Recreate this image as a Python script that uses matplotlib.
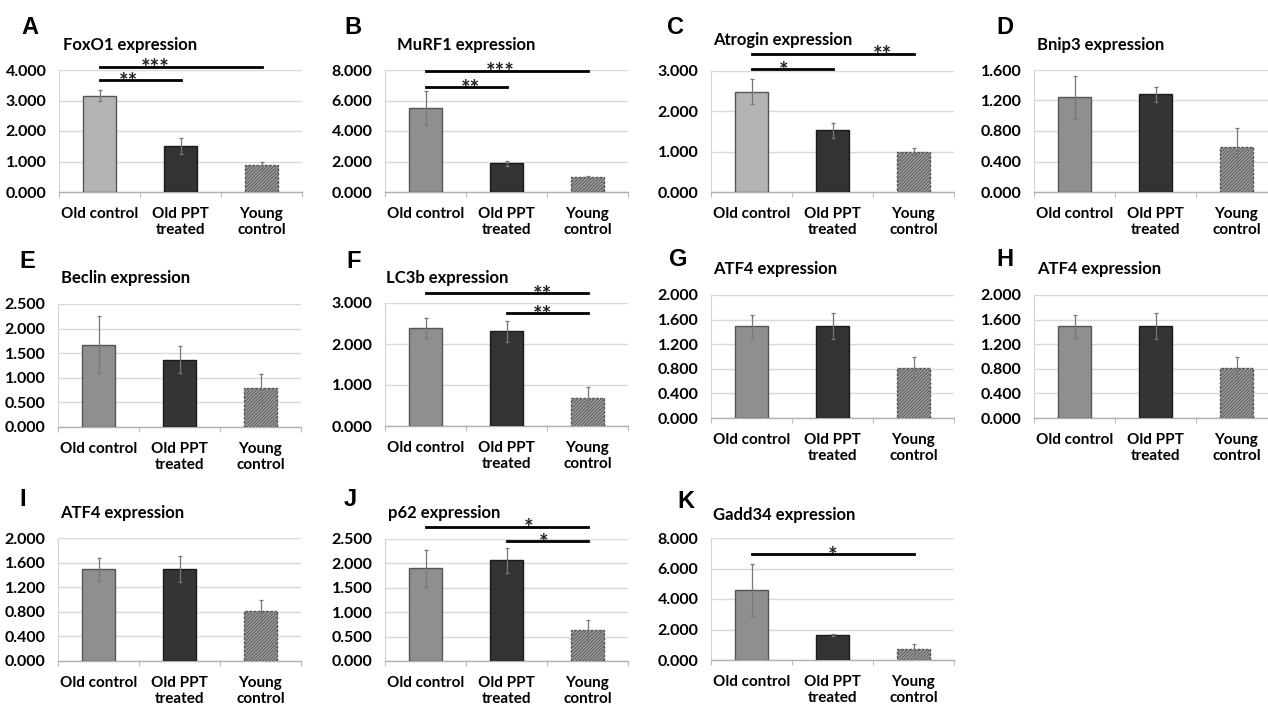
import numpy as np
import matplotlib
matplotlib.use("Agg")
import matplotlib.pyplot as plt
from matplotlib.ticker import FixedLocator

plt.rcParams['font.family'] = ['Lato', 'DejaVu Sans']
plt.rcParams['font.weight'] = 'bold'
plt.rcParams['hatch.linewidth'] = 0.6
plt.rcParams['hatch.color'] = '#5c5c5c'

#Groups
groups = ['Old control', 'Old PPT\ntreated', 'Young\ncontrol']

#Values (mean, error)
foxo1 = [3.15, 1.52, 0.88]
foxo1_err = [0.18, 0.26, 0.12]
murf1 = [5.50, 1.88, 1.00]
murf1_err = [1.10, 0.15, 0.05]
atrogin = [2.49, 1.53, 1.00]
atrogin_err = [0.30, 0.19, 0.08]
bnip3 = [1.24, 1.28, 0.59]
bnip3_err = [0.28, 0.10, 0.25]
beclin = [1.67, 1.37, 0.79]
beclin_err = [0.58, 0.27, 0.28]
lc3b = [2.39, 2.31, 0.68]
lc3b_err = [0.24, 0.26, 0.28]
atf4 = [1.49, 1.50, 0.81]
atf4_err = [0.19, 0.21, 0.19]
p62 = [1.90, 2.06, 0.64]
p62_err = [0.38, 0.26, 0.21]
gadd34 = [4.60, 1.65, 0.74]
gadd34_err = [1.72, 0.08, 0.28]

#Significance bars: (from, to, height, stars, star x)
foxo1_sig = [(0, 2, 4.11, '***', 0.69), (0, 1, 3.67, '**', 0.36)]
murf1_sig = [(0, 2, 7.95, '***', 0.92), (0, 1, 6.86, '**', 0.55)]
atrogin_sig = [(0, 2, 3.43, '**', 1.62), (0, 1, 3.04, '*', 0.40)]
lc3b_sig = [(0, 2, 3.24, '**', 1.44), (1, 2, 2.75, '**', 1.44)]
p62_sig = [(0, 2, 2.75, '*', 1.27), (1, 2, 2.45, '*', 1.46)]
gadd34_sig = [(0, 2, 6.95, '*', 1.0)]

#Panel: letter, title, values, errors, ymax, ystep, sig, light first bar
panels = [
    ('A', 'FoxO1 expression', foxo1, foxo1_err, 4, 1, foxo1_sig, True),
    ('B', 'MuRF1 expression', murf1, murf1_err, 8, 2, murf1_sig, False),
    ('C', 'Atrogin expression', atrogin, atrogin_err, 3, 1, atrogin_sig, True),
    ('D', 'Bnip3 expression', bnip3, bnip3_err, 1.6, 0.4, [], False),
    ('E', 'Beclin expression', beclin, beclin_err, 2.5, 0.5, [], False),
    ('F', 'LC3b expression', lc3b, lc3b_err, 3, 1, lc3b_sig, False),
    ('G', 'ATF4 expression', atf4, atf4_err, 2, 0.4, [], False),
    ('H', 'ATF4 expression', atf4, atf4_err, 2, 0.4, [], False),
    ('I', 'ATF4 expression', atf4, atf4_err, 2, 0.4, [], False),
    ('J', 'p62 expression', p62, p62_err, 2.5, 0.5, p62_sig, False),
    ('K', 'Gadd34 expression', gadd34, gadd34_err, 8, 2, gadd34_sig, False),
]

#Layout in pixels: axes left, axes bottom, axes top, letter (x, y), title (x, y)
layout = [
    (59, 192, 70, (21, 28), (63, 45)),
    (385, 192, 70, (344, 28), (397, 45)),
    (711, 192, 71, (667, 28), (713, 40)),
    (1034, 192, 70, (996, 28), (1037, 45)),
    (58, 427, 304, (19, 262), (61, 278)),
    (385, 426, 303, (346, 262), (386, 278)),
    (711, 418, 295, (669, 260), (713, 269)),
    (1034, 418, 295, (996, 260), (1037, 269)),
    (58, 661, 538, (19, 500), (60, 513)),
    (385, 661, 539, (344, 500), (388, 513)),
    (711, 660, 538, (677, 501), (713, 515)),
]

W, H = 1268, 705
AXW = 243
fig = plt.figure(figsize=(W / 100, H / 100), dpi=100)

x = np.arange(3)
for (letter, title, vals, errs, ymax, ystep, sigs, light), (x0, yb, yt, lpos, tpos) in zip(panels, layout):
    ax = fig.add_axes([x0 / W, 1 - yb / H, AXW / W, (yb - yt) / H])
    first = '#b4b4b4' if light else '#8f8f8f'
    bars = ax.bar(x, vals, width=0.41, color=[first, '#333333', '#9c9c9c'],
                  edgecolor=['#555555', '#1a1a1a', '#555555'], linewidth=1.0, zorder=3)
    bars[2].set_hatch('//////////')
    bars[2].set_linestyle((0, (2, 1)))
    ax.errorbar(x, vals, yerr=errs, fmt='none', ecolor='#777777', elinewidth=0.9,
                capsize=1.5, capthick=0.9, zorder=4)

    ax.set_xlim(-0.5, 2.5)
    ax.set_ylim(0, ymax)
    ticks = np.arange(0, ymax + ystep / 2, ystep)
    ax.set_yticks(ticks)
    ax.set_yticklabels(['%.3f' % t for t in ticks], fontsize=11.5, fontweight='bold')
    ax.set_xticks(x)
    ax.set_xticklabels(groups, fontsize=11, fontweight='bold', linespacing=1.2)
    ax.xaxis.set_minor_locator(FixedLocator([-0.5, 0.5, 1.5, 2.5]))
    ax.tick_params(axis='x', which='major', length=0, pad=10.5)
    ax.tick_params(axis='x', which='minor', length=3.5, color='#bbbbbb', width=0.8)
    ax.tick_params(axis='y', length=0, pad=9)
    ax.grid(axis='y', color='#d9d9d9', linewidth=1.0, zorder=0)
    ax.set_axisbelow(True)
    for s in ['top', 'right']:
        ax.spines[s].set_visible(False)
    ax.spines['left'].set_color('#d4d4d4')
    ax.spines['bottom'].set_color('#b0b0b0')
    ax.spines['bottom'].set_linewidth(1.0)

    for a, b, h, stars, sx in sigs:
        ax.plot([a, b], [h, h], color='black', linewidth=2, clip_on=False, zorder=5)
        ax.annotate(stars, xy=(sx, h), xytext=(0, -9), textcoords='offset points',
                    ha='center', va='bottom', fontsize=16, fontweight='bold',
                    color='#222222', annotation_clip=False)

    fig.text(lpos[0] / W, 1 - lpos[1] / H, letter, fontsize=17, fontweight='bold',
             family=['Liberation Sans', 'DejaVu Sans'], ha='left', va='center')
    fig.text(tpos[0] / W, 1 - tpos[1] / H, title, fontsize=12, fontweight='bold',
             ha='left', va='center')

fig.savefig('out.png', dpi=100, facecolor='white')
